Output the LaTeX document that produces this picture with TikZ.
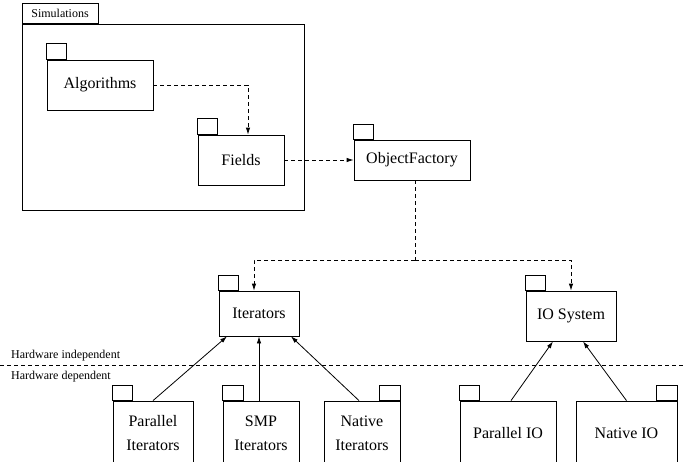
\documentclass[tikz,border=0pt]{standalone}
\usepackage{fontspec}
\setmainfont{Liberation Serif}
\usetikzlibrary{arrows.meta}
\begin{document}
\begin{tikzpicture}[x=1pt,y=-1pt,
  frame/.style={draw, line width=0.8pt},
  pkg/.style={frame, rectangle, inner sep=0pt, font=\fontsize{16}{24}\selectfont, align=center},
  dep/.style={line width=0.8pt, dash pattern=on 4pt off 3pt, -{Latex[length=7pt,width=4.5pt]}},
  dline/.style={line width=0.8pt, dash pattern=on 4pt off 3pt},
  use/.style={line width=0.8pt, -{Latex[length=7pt,width=4.5pt]}},
  small/.style={font=\fontsize{12}{14}\selectfont, inner sep=0pt}]
\useasboundingbox (0,0) rectangle (683,461);
% Simulations package
\node[frame, rectangle, inner sep=0pt, minimum width=282pt, minimum height=186pt] (sim) at (163,117) {};
\node[frame, rectangle, small, minimum width=76pt, minimum height=20pt, anchor=south west] (simtab) at (sim.north west) {Simulations};
% packages
\node[pkg, minimum width=106pt, minimum height=50pt] (alg) at (100,85) {Algorithms};
\draw[frame] (alg.north west) rectangle ++(20,-16);
\node[pkg, minimum width=86pt, minimum height=50pt] (fields) at (241,160) {Fields};
\draw[frame] (fields.north west) rectangle ++(20,-16);
\node[pkg, minimum width=116pt, minimum height=40pt] (of) at (412,160) {ObjectFactory};
\draw[frame] (of.north west) rectangle ++(20,-15);
\node[pkg, minimum width=80pt, minimum height=45pt] (iter) at (259,313.5) {Iterators};
\draw[frame] (iter.north west) rectangle ++(20,-15);
\node[pkg, minimum width=90pt, minimum height=50pt] (io) at (571,316) {IO System};
\draw[frame] (io.north west) rectangle ++(20,-15);
% hardware dependent packages
\node[pkg, minimum width=80pt, minimum height=64pt] (pit) at (153,433) {Parallel\\Iterators};
\draw[frame] (pit.north west) rectangle ++(20,-15);
\node[pkg, minimum width=76pt, minimum height=64pt] (smp) at (261,433) {SMP\\Iterators};
\draw[frame] (smp.north west) rectangle ++(21,-15);
\node[pkg, minimum width=76pt, minimum height=64pt] (nat) at (362,433) {Native\\Iterators};
\draw[frame] (nat.north east) rectangle ++(-21,-15);
\node[pkg, minimum width=96pt, minimum height=64pt] (pio) at (508,433) {Parallel IO};
\draw[frame] (pio.north west) rectangle ++(20,-15);
\node[pkg, minimum width=101pt, minimum height=64pt] (nio) at (626.5,433) {Native IO};
\draw[frame] (nio.north east) rectangle ++(-21,-15);
% dependencies
\draw[dep] (alg.east) -| ([xshift=7pt]fields.north);
\draw[dep] (fields.east) -- (of.west);
\coordinate (j) at (415,260);
\draw[dline] ([xshift=3pt]of.south) -- (j);
\draw[dep] (j) -| ([xshift=-5pt]iter.north);
\draw[dep] (j) -| (io.north);
% hardware separation
\coordinate (hl) at (0,365);
\coordinate (hr) at (683,365);
\draw[dline] (hl) -- (hr);
\node[small, anchor=west] (hind) at (11,356) {Hardware independent};
\node[small, anchor=west] (hdep) at (11,377) {Hardware dependent};
% realisations
\draw[use] (pit.north) -- ([xshift=-32pt]iter.south);
\draw[use] ([xshift=-2pt]smp.north) -- (iter.south);
\draw[use] ([xshift=-3pt]nat.north) -- ([xshift=32pt]iter.south);
\draw[use] ([xshift=3pt]pio.north) -- ([xshift=-18pt]io.south);
\draw[use] (nio.north) -- ([xshift=12pt]io.south);
\end{tikzpicture}
\end{document}
